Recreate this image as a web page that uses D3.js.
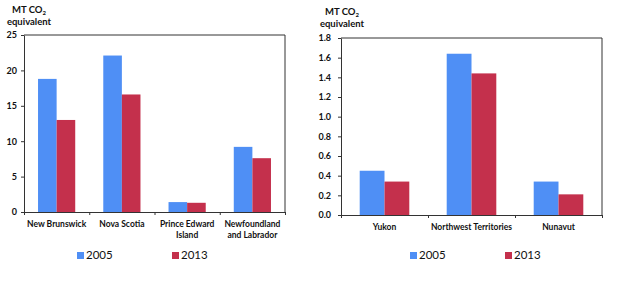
<!DOCTYPE html>
<html>
<head>
<meta charset="utf-8">
<script src="https://cdn.jsdelivr.net/npm/d3@7"></script>
<style>
  body { margin: 0; background: #fff; }
  svg text { font-family: Lato, "Liberation Sans", sans-serif; }
</style>
</head>
<body>
<div class="svg-container"></div>
<script>
// series / categories
const years = ['2005', '2013'];
const colors = ['#4f8ff5', '#c4304c'];

const atlCategories = [['New Brunswick'], ['Nova Scotia'], ['Prince Edward', 'Island'], ['Newfoundland', 'and Labrador']];
const atl2005 = [18.8, 22.1, 1.4, 9.2];
const atl2013 = [13.0, 16.6, 1.3, 7.6];
const atlTicks = [0, 5, 10, 15, 20, 25];

const terrCategories = [['Yukon'], ['Northwest Territories'], ['Nunavut']];
const terr2005 = [0.45, 1.64, 0.34];
const terr2013 = [0.34, 1.44, 0.21];
const terrTicks = [0, 0.2, 0.4, 0.6, 0.8, 1.0, 1.2, 1.4, 1.6, 1.8];

const svg = d3.select('.svg-container')
    .append('svg')
    .attr('width', 620)
    .attr('height', 281);

const axisColor = '#333';

function drawPanel(p) {
    const n = p.cats.length;

    // category bands, then one band per year inside each
    const x0 = d3.scaleBand()
        .domain(d3.range(n))
        .range([p.left, p.right])
        .paddingInner(p.pad)
        .paddingOuter(p.pad / 2);
    const x1 = d3.scaleBand()
        .domain(years)
        .range([0, x0.bandwidth()]);
    const y = d3.scaleLinear()
        .domain([0, d3.max(p.ticks)])
        .range([p.bottom, p.top]);

    const g = svg.append('g');

    //plot box (top and right edges)
    g.append('path')
        .attr('d', `M${p.left},${p.top}H${p.right}V${p.bottom}`)
        .attr('fill', 'none')
        .attr('stroke', axisColor)
        .attr('stroke-width', 1);

    //bars
    const bars = [];
    p.series.forEach((vals, j) => vals.forEach((v, i) => bars.push({ i, year: years[j], v, c: colors[j] })));
    g.selectAll('.bar')
        .data(bars)
        .join('rect')
        .attr('class', 'bar')
        .attr('x', d => x0(d.i) + x1(d.year))
        .attr('width', x1.bandwidth())
        .attr('y', d => y(d.v))
        .attr('height', d => y(0) - y(d.v))
        .attr('fill', d => d.c);

    //y axis
    g.append('g')
        .attr('transform', `translate(${p.left},0)`)
        .call(d3.axisLeft(y).tickValues(p.ticks).tickFormat(p.fmt).tickSize(3).tickSizeOuter(0).tickPadding(p.tickPad))
        .call(a => a.selectAll('line, path').attr('stroke', axisColor))
        .call(a => a.selectAll('text')
            .attr('font-family', null)
            .attr('font-size', 9)
            .attr('font-weight', 'bold')
            .attr('fill', '#111'));

    //x axis with ticks at category boundaries
    const xb = d3.scaleLinear().domain([0, n]).range([p.left, p.right]);
    g.append('g')
        .attr('transform', `translate(0,${p.bottom})`)
        .call(d3.axisBottom(xb).tickValues(d3.range(n + 1)).tickFormat('').tickSize(3).tickSizeOuter(0))
        .call(a => a.selectAll('line, path').attr('stroke', axisColor));

    //category labels
    g.selectAll('.cat-label')
        .data(p.cats)
        .join('text')
        .attr('class', 'cat-label')
        .attr('text-anchor', 'middle')
        .attr('font-size', 8.5)
        .attr('font-weight', 'bold')
        .attr('fill', '#111')
        .attr('transform', (d, i) => `translate(${x0(i) + x0.bandwidth() / 2},${p.labelY})`)
        .selectAll('tspan')
        .data(d => d)
        .join('tspan')
        .attr('x', 0)
        .attr('dy', (d, k) => k === 0 ? 0 : 11)
        .text(d => d);

    //unit label
    const title = g.append('text')
        .attr('text-anchor', 'middle')
        .attr('font-size', 9.5)
        .attr('font-weight', 'bold')
        .attr('fill', '#111')
        .attr('transform', `translate(${p.titleX},${p.titleY})`);
    title.append('tspan').attr('x', 0).text('MT CO');
    title.append('tspan').attr('font-size', 6).attr('dy', 2).text('2');
    title.append('tspan').attr('x', 0).attr('dy', 9.5).text('equivalent');

    //legend
    const leg = g.selectAll('.legend')
        .data(years)
        .join('g')
        .attr('class', 'legend')
        .attr('transform', (d, j) => `translate(${p.legendX[j]},${p.legendY})`);
    leg.append('rect')
        .attr('y', -7)
        .attr('width', 7)
        .attr('height', 7)
        .attr('fill', (d, j) => colors[j]);
    leg.append('text')
        .attr('x', 9)
        .attr('y', 0)
        .attr('font-size', 11.5)
        .attr('fill', '#111')
        .text(d => d);
}

drawPanel({
    cats: atlCategories, series: [atl2005, atl2013], ticks: atlTicks,
    fmt: d3.format('d'), tickPad: 4,
    left: 24, right: 285, top: 35, bottom: 212, pad: 0.43,
    labelY: 227, titleX: 29, titleY: 13,
    legendX: [77, 172], legendY: 259
});

drawPanel({
    cats: terrCategories, series: [terr2005, terr2013], ticks: terrTicks,
    fmt: d3.format('.1f'), tickPad: 7,
    left: 341, right: 602, top: 38, bottom: 215, pad: 0.43,
    labelY: 230, titleX: 342, titleY: 15,
    legendX: [410, 505], legendY: 259
});
</script>
</body>
</html>
